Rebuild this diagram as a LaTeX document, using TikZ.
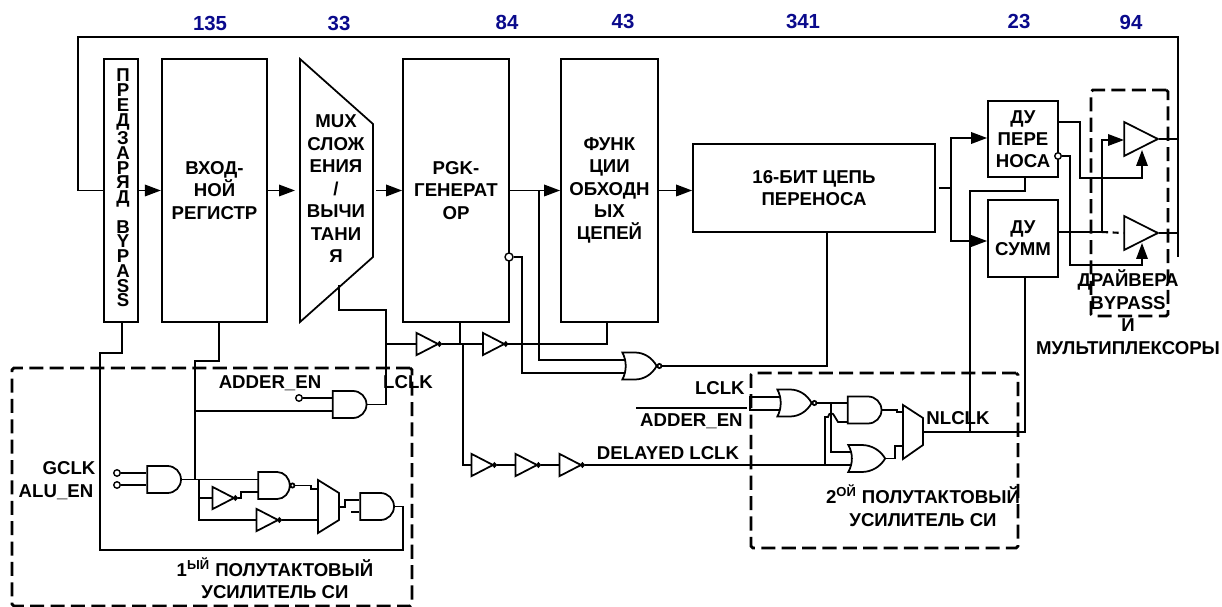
\documentclass[tikz,border=0pt]{standalone}
\usepackage{fontspec}
\setmainfont{Liberation Sans}
\usetikzlibrary{arrows.meta,shapes.gates.logic.US}
\definecolor{numblue}{RGB}{10,10,140}
\tikzset{
  w/.style    = {line width=1pt},
  e/.style    = {line width=1pt, -{Triangle[length=3.2mm,width=2.3mm]}},
  box/.style  = {draw, line width=1pt, align=center, inner sep=0pt,
                 font=\bfseries\fontsize{10.6}{12.6}\selectfont},
  lbl/.style  = {align=center, inner sep=0pt, font=\bfseries\fontsize{10.6}{12.8}\selectfont},
  num/.style  = {inner sep=0pt, text=numblue, font=\bfseries\fontsize{11.6}{12.5}\selectfont},
  frame/.style= {draw, line width=1.6pt, dash pattern=on 8pt off 3.6pt, rounded corners=1pt},
  pin/.style  = {draw, circle, fill=white, line width=0.8pt, inner sep=0pt, minimum size=1.3mm},
  gate/.style = {draw, line width=1pt, inner sep=0pt, logic gate input sep=0.18cm,
                 logic gate inverted radius=1.2pt},
  andg/.style = {and gate US, gate},
  nandg/.style= {nand gate US, gate, xscale=0.93},
  org/.style  = {or gate US, gate},
  norg/.style = {nor gate US, gate, xscale=0.93},
  inv/.style  = {not gate US, gate, logic gate input sep=0.19cm, logic gate inverted radius=1pt, xscale=0.9},
  drv/.style  = {not gate US, gate, logic gate input sep=0.29cm, logic gate inverted radius=0.01pt, xscale=0.94}
}
\begin{document}
\begin{tikzpicture}[x=0.02cm,y=-0.02cm]
  \useasboundingbox (0,0) rectangle (1222,607);
  \node[num] (n1) at (210,24) {135};
  \node[num] (n2) at (339,24) {33};
  \node[num] (n3) at (507,22) {84};
  \node[num] (n4) at (623,22) {43};
  \node[num] (n5) at (803,22) {341};
  \node[num] (n6) at (1019,22) {23};
  \node[num] (n7) at (1131,22) {94};

  \node[box, minimum width=0.68cm, minimum height=5.26cm] (byp) at (121,190.5) {};
  \node[lbl, font=\bfseries\fontsize{10.6}{8.4}\selectfont] (bypt) at (123,188) {П\\Р\\Е\\Д\\З\\А\\Р\\Я\\Д\\ \\B\\Y\\P\\A\\S\\S};
  \node[box, minimum width=2.11cm, minimum height=5.26cm] (reg) at (214.5,190.5) {ВХОД-\\НОЙ\\РЕГИСТР};
  \draw[w] (300,59) coordinate (mtop) -- (373,124) -- (373,257) -- (300,322) -- cycle;
  \node[lbl] (mux) at (336,189) {MUX\\СЛОЖ\\ЕНИЯ\\/\\ВЫЧИ\\ТАНИ\\Я};
  \node[box, minimum width=2.12cm, minimum height=5.26cm] (pgk) at (456,190.5) {PGK-\\ГЕНЕРАТ\\ОР};
  \node[box, minimum width=1.94cm, minimum height=5.26cm] (func) at (609.5,190.5) {ФУНК\\ЦИИ\\ОБХОДН\\ЫХ\\ЦЕПЕЙ};
  \node[box, minimum width=4.84cm, minimum height=1.76cm] (carry) at (814,188) {16-БИТ ЦЕПЬ\\ПЕРЕНОСА};
  \node[box, minimum width=1.4cm, minimum height=1.52cm] (dup) at (1023,139) {ДУ\\ПЕРЕ\\НОСА};
  \node[box, minimum width=1.4cm, minimum height=1.54cm] (dus) at (1023,238.5) {ДУ\\СУММ};

  \coordinate (muxin) at (295,190.5);
  \coordinate (muxout) at (376,190.5);
  \coordinate (jb) at (539,190.5);
  \draw[w] (byp.west) -- (78,190.5) -- (78,37) -- (1178,37) -- (1178,257) coordinate (tend);
  \draw[e] (byp) -- (reg);
  \draw[e] (reg) -- (muxin);
  \draw[e] (muxout) -- (pgk);
  \draw[e] (pgk) -- (func);
  \draw[e] (func.east) -- (func.east -| carry.west);

  \node[inv] (i1) at (423.7,344) {};
  \node[inv] (i2) at (490,344) {};
  \node[inv] (i3) at (478.7,465) {};
  \node[inv] (i4) at (522.7,465) {};
  \node[inv] (i5) at (566.7,465) {};
  \node[norg] (nr1) at (637,366) {};
  \draw[w] (339,285) coordinate (mbot) -- (339,310) -- (386,310) -- (386,404.5) coordinate (lck);
  \draw[w] (386,344) coordinate (jl) -- (i1.input);
  \draw[w] (i1.output) -- (i2.input);
  \draw[w] (i2.output) -- (607,344) -- (607,322) coordinate (fbot);
  \draw[w] (460,322) coordinate (pbot) -- (460,345);
  \draw[w] (463,344) coordinate (jd) -- (463,465) -- (i3.input);
  \draw[w] (i3.output) -- (i4.input);
  \draw[w] (i4.output) -- (i5.input);
  \node[pin, minimum size=1.6mm] (pbub) at (509,257) {};
  \draw[w] (pbub) -- (522,257) -- (522,373) -- (nr1.input 2 |- 522,373);
  \draw[w] (jb) -- (539,360) -- (nr1.input 1 |- 539,360);
  \draw[w] (nr1.output) -- (827,366) -- (827,232) coordinate (cbot);

  \node[frame, minimum width=8cm, minimum height=4.76cm] (fr1) at (212,487) {};
  \node[andg] (a1) at (348.5,404.5) {};
  \node[andg] (a2) at (163,479.5) {};
  \node[nandg] (nd) at (273,485.5) {};
  \node[andg] (a3) at (376,506.5) {};
  \node[inv] (i6) at (219.7,498) {};
  \node[inv] (i7) at (263.7,520) {};
  \node[pin] (pa) at (299,398) {};
  \node[pin] (pg) at (117,473) {};
  \node[pin] (pe) at (117,485) {};
  \draw[w] (318,480) coordinate (m1a) -- (339,493) -- (339,520) -- (318,533) -- cycle;
  \draw[w] (pa) -- (a1.input 1 |- pa);
  \draw[w] (a1.output) -- (lck);
  \draw[w] (pg) -- (a2.input 1 |- pg);
  \draw[w] (pe) -- (a2.input 2 |- pe);
  \draw[w] (219,322) coordinate (rbot) -- (219,361) -- (195,361) -- (195,479.5) coordinate (jg);
  \draw[w] (195,411) coordinate (ja) -- (a1.input 2 |- ja);
  \draw[w] (a2.output) -- (nd.input 1 |- a2.output);
  \draw[w] (199,479.5) coordinate (jh) -- (199,520) -- (i7.input);
  \draw[w] (199,498) coordinate (ji) -- (i6.input);
  \draw[w] (i6.output) -- (241,498) -- (241,492) -- (nd.input 2 |- 241,492);
  \draw[w] (nd.output) -- (311,485.5) -- (311,489) -- (318,489) coordinate (m1b);
  \draw[w] (i7.output) -- (318,520) coordinate (m1c);
  \draw[w] (339,507) coordinate (m1d) -- (345,507) -- (345,500) -- (a3.input 1 |- 345,500);
  \draw[w] (351,512) coordinate (stub) -- (a3.input 2 |- stub);
  \draw[w] (122,322) coordinate (bbot) -- (122,353) -- (100,353) -- (100,550) -- (403,550) -- (403,506.5) -- (a3.output);
  \node[lbl] (tad) at (270,383) {ADDER\_EN};
  \node[lbl] (tlc) at (408,382) {LCLK};
  \node[lbl] (tgc) at (69,468) {GCLK};
  \node[lbl] (tal) at (56,492) {ALU\_EN};
  \node[lbl] (th1) at (275,578) {1\textsuperscript{ЫЙ} ПОЛУТАКТОВЫЙ\\УСИЛИТЕЛЬ СИ};

  \node[frame, minimum width=5.34cm, minimum height=3.5cm] (fr2) at (884.5,460.5) {};
  \node[norg] (nr2) at (792,403) {};
  \node[andg] (a4) at (863.5,410) {};
  \node[org] (o1) at (864,458.5) {};
  \draw[w] (903,405) coordinate (m2a) -- (923,418) -- (923,445) -- (903,459) -- cycle;
  \draw[w] (nr2.input 1 |- 750,397) -- (750,397) coordinate (lin) -- (750,410) coordinate (ain) -- (nr2.input 2 |- 750,410);
  \draw[w] (nr2.output) -- (a4.input 1 |- nr2.output);
  \draw[w] (i5.output) -- (825,465) coordinate (jn) -- (o1.input 2 |- jn);
  \draw[w] (jn) -- (825,417) -- (828,417) .. controls (829,412) and (833,412) .. (835,417) -- (838,422) -- (a4.input 2 |- 838,422);
  \draw[w] (831,403) coordinate (jo) -- (831,452) -- (o1.input 1 |- 831,452);
  \draw[w] (a4.output) -- (897,410) -- (897,412) -- (903,412) coordinate (m2b);
  \draw[w] (o1.output) -- (895,458.5) -- (895,446) -- (903,446) coordinate (m2c);
  \draw[w] (923,432) coordinate (m2d) -- (1025,432) -- (dus.south -| 1025,0);
  \draw[w] (970,432) coordinate (jp) -- (970,191) -- (1025,191) -- (dup.south -| 1025,0);
  \draw[w] (636,408) coordinate (ola) -- (747,408) coordinate (olb);
  \node[lbl, anchor=east] (tl2) at (745,388) {LCLK};
  \node[lbl, anchor=east] (ta2) at (743,421) {ADDER\_EN};
  \node[lbl] (tdl) at (668,453) {DELAYED LCLK};
  \node[lbl] (tnl) at (958,418) {NLCLK};
  \node[lbl] (th2) at (923,505.5) {2\textsuperscript{ОЙ} ПОЛУТАКТОВЫЙ\\УСИЛИТЕЛЬ СИ};

  \node[frame, minimum width=1.54cm, minimum height=4.52cm] (fr3) at (1129.5,203) {};
  \node[drv] (b1) at (1135.6,139) {};
  \node[drv] (b2) at (1135.6,233) {};
  \coordinate (jq) at (951,188);
  \draw[w] (939,188) coordinate (cout) -- (jq);
  \draw[e] (jq) -- (951,138) -- (dup.west |- 0,138);
  \draw[e] (jq) -- (951,241) -- (dus.west |- 0,241);
  \draw[e] (1058,122) coordinate (dupr) -- (1080,122) -- (1080,178) -- (1142,178) -- (1142,150);
  \node[pin] (pc) at (1058,156) {};
  \draw[e] (pc) -- (1070,156) -- (1070,265) -- (1142,265) -- (1142,243);
  \draw[w] (1058,232) coordinate (dusr) -- (1102,232) coordinate (jc);
  \draw[w, line width=1.2pt, dash pattern=on 3.5pt off 2.5pt] (jc) -- (b2.input);
  \draw[e] (jc) -- (1102,140) -- (1124,140) coordinate (bin);
  \draw[w] (b1.output) -- (1178,139) coordinate (bo1);
  \draw[w] (b2.output) -- (1178,233) coordinate (bo2);
  \node[lbl] (tdr) at (1128,312) {ДРАЙВЕРА\\BYPASS\\И\\МУЛЬТИПЛЕКСОРЫ};
\end{tikzpicture}
\end{document}
